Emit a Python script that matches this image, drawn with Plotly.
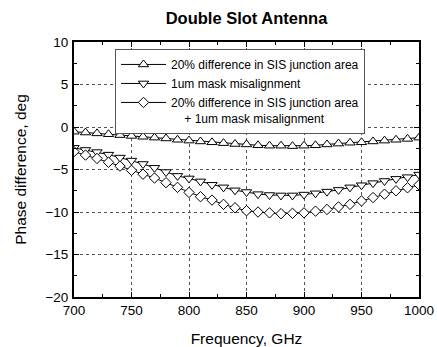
import plotly.graph_objects as go

freq = [700, 710, 720, 730, 740, 750, 760, 770, 780, 790, 800,
        810, 820, 830, 840, 850, 860, 870, 880, 890, 900,
        910, 920, 930, 940, 950, 960, 970, 980, 990, 1000]

area_diff = [-0.55, -0.65, -0.75, -0.85, -0.95, -1.05, -1.15, -1.25, -1.35, -1.5, -1.6,
             -1.7, -1.8, -1.9, -2.0, -2.05, -2.15, -2.2, -2.2, -2.25, -2.2,
             -2.15, -2.05, -1.95, -1.85, -1.8, -1.7, -1.6, -1.5, -1.4, -1.25]

mask_mis = [-2.45, -2.7, -2.95, -3.25, -3.6, -3.95, -4.35, -4.8, -5.3, -5.75, -6.05,
            -6.4, -6.8, -7.1, -7.45, -7.65, -7.9, -8.0, -8.05, -8.05, -7.95,
            -7.8, -7.6, -7.4, -7.1, -6.85, -6.6, -6.35, -6.1, -5.9, -5.6]

combined = [-2.9, -3.3, -3.7, -4.15, -4.6, -5.1, -5.55, -6.0, -6.55, -7.1, -7.7,
            -8.2, -8.6, -9.1, -9.5, -9.85, -10.0, -10.1, -10.2, -10.15, -10.1,
            -9.9, -9.7, -9.4, -9.1, -8.7, -8.3, -7.9, -7.5, -7.15, -6.8]

names = ["20% difference in SIS junction area",
         "1um mask misalignment",
         "20% difference in SIS junction area<br>\u00a0\u00a0\u00a0\u00a0+ 1um mask misalignment"]
symbols = ["triangle-up", "triangle-down", "diamond"]
sizes = [9, 9, 8]
series = [area_diff, mask_mis, combined]

x_ticks = [700, 750, 800, 850, 900, 950, 1000]
y_ticks = [-20, -15, -10, -5, 0, 5, 10]

FONT = "Liberation Sans, Arial, sans-serif"

fig = go.Figure()
for name, sym, sz, vals in zip(names, symbols, sizes, series):
    fig.add_trace(go.Scatter(
        x=freq, y=vals, name=name, mode="lines+markers",
        line=dict(color="black", width=1),
        marker=dict(symbol=sym, size=sz, color="white",
                    line=dict(color="black", width=1)),
    ))

axis_common = dict(
    showline=True, linecolor="black", linewidth=2, mirror="allticks",
    ticks="inside", ticklen=5, tickwidth=1, tickcolor="black",
    showgrid=True, gridcolor="#555", griddash="dot", gridwidth=1,
    zeroline=False, automargin=False,
    tickfont=dict(family=FONT, size=13.5, color="black"),
)

fig.update_xaxes(
    range=[700, 1000], tickvals=x_ticks, ticklabelstandoff=0,
    minor=dict(dtick=25, ticklen=3, tickcolor="black", ticks="inside", showgrid=False),
    title=dict(text="Frequency, GHz", font=dict(family=FONT, size=15.5, color="black"), standoff=17),
    **axis_common,
)
fig.update_yaxes(
    range=[-20, 10], tickvals=y_ticks, ticklabelstandoff=1,
    minor=dict(dtick=2.5, ticklen=3, tickcolor="black", ticks="inside", showgrid=False),
    title=dict(text="Phase difference, deg", font=dict(family=FONT, size=15.5, color="black"), standoff=15),
    **axis_common,
)

fig.update_layout(
    width=437, height=347,
    margin=dict(l=74, r=18, t=42, b=50),
    paper_bgcolor="white", plot_bgcolor="white",
    title=dict(text="<b>Double Slot Antenna</b>", x=0.5, xref="paper",
               y=1 - 18 / 347, yref="container", yanchor="middle",
               font=dict(family=FONT, size=16.5, color="black")),
    legend=dict(x=(115 - 74) / 345, y=0.972, xanchor="left", yanchor="top",
                bgcolor="white", bordercolor="#555", borderwidth=1,
                valign="top", tracegroupgap=0, itemwidth=45,
                font=dict(family=FONT, size=12, color="black")),
    showlegend=True,
)

fig.write_html("out.html")
